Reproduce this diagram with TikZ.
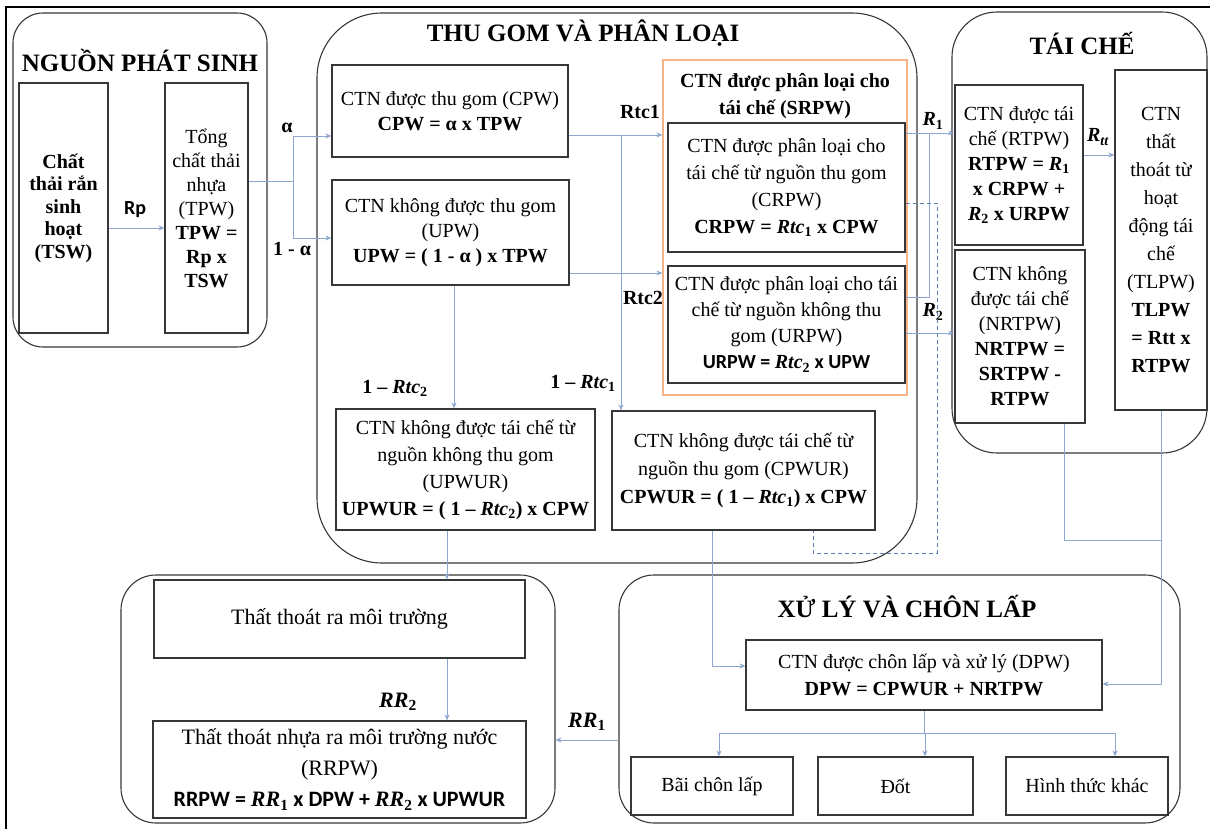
\documentclass[tikz,border=0pt]{standalone}
\usepackage{fontspec}
\setmainfont{Liberation Serif}
\newfontfamily\calfont{Carlito}
\usetikzlibrary{arrows.meta}
\usetikzlibrary{positioning}

\definecolor{flowblue}{RGB}{140,166,206}
\definecolor{dashblue}{RGB}{95,125,185}
\definecolor{boxgray}{RGB}{55,55,55}
\definecolor{sortorange}{RGB}{244,180,135}

\newcommand{\mv}[2]{\textit{#1}\textsubscript{#2}}

\begin{document}
\begin{tikzpicture}[x=1pt, y=-1pt,
    stage/.style={draw=boxgray, line width=1.1pt, rounded corners=#1},
    stage/.default=35pt,
    box/.style={draw=boxgray, line width=1.2pt, align=center, inner sep=2pt,
        font=\fontsize{20}{25}\selectfont},
    sortbox/.style={draw=sortorange, line width=1.2pt},
    stagetitle/.style={font=\fontsize{25}{30}\selectfont\bfseries},
    lbl/.style={font=\fontsize{20}{24}\selectfont\bfseries, inner sep=1pt},
    flow/.style={draw=flowblue, line width=0.8pt, -{Stealth[length=6pt, width=5pt]}},
    link/.style={draw=flowblue, line width=0.8pt},
    dashlink/.style={draw=dashblue, line width=0.8pt, dash pattern=on 4pt off 3pt}
]
\useasboundingbox (0,0) rectangle (1210,829);

% --- frame ---
\draw[line width=2pt] (6,829) -- (6,7) -- (1210,7);

% --- stages ---
\node[stage=30pt, minimum width=254pt, minimum height=334pt] (gen) at (140,180) {};
\node[stage=65pt, minimum width=600pt, minimum height=550pt] (collect) at (617,288) {};
\node[stage=45pt, minimum width=255pt, minimum height=441pt] (recycle) at (1079.5,232.5) {};
\node[stage=35pt, minimum width=434pt, minimum height=248pt] (loss) at (338,699) {};
\node[stage=35pt, minimum width=561pt, minimum height=248pt] (treat) at (899.5,699) {};

\node[stagetitle] (gentitle) at (140,60) {NGUỒN PHÁT SINH};
\node[stagetitle] (collecttitle) at (583,33) {THU GOM VÀ PHÂN LOẠI};
\node[stagetitle] (recycletitle) at (1082,43) {TÁI CHẾ};
\node[stagetitle] (treattitle) at (907,607) {XỬ LÝ VÀ CHÔN LẤP};

% --- source ---
\node[box, font=\fontsize{20}{22.5}\selectfont\bfseries, minimum width=89pt, minimum height=250pt] (tsw) at (63.5,208)
    {Chất\\thải rắn\\sinh\\hoạt\\(TSW)};
\node[box, font=\fontsize{20}{24}\selectfont, minimum width=83pt, minimum height=250pt] (tpw) at (206.5,208)
    {Tổng\\chất thải\\nhựa\\(TPW)\\\textbf{TPW =}\\\textbf{Rp x}\\\textbf{TSW}};

% --- collection and sorting ---
\node[box, minimum width=236pt, minimum height=92pt] (cpw) at (450,111)
    {CTN được thu gom (CPW)\\\textbf{CPW = α x TPW}};
\node[box, minimum width=237pt, minimum height=105pt] (upw) at (450.5,232.5)
    {CTN không được thu gom\\(UPW)\\\textbf{UPW = ( 1 - α ) x TPW}};
\node[sortbox, minimum width=244pt, minimum height=335pt] (srpw) at (785,227.5) {};
\node[font=\fontsize{20}{27}\selectfont\bfseries, align=center] (srpwtitle) at (785,96)
    {CTN được phân loại cho\\tái chế (SRPW)};
\node[box, font=\fontsize{20}{27}\selectfont, minimum width=237pt, minimum height=129pt] (crpw) at (786.5,187.5)
    {CTN được phân loại cho\\tái chế từ nguồn thu gom\\(CRPW)\\\textbf{CRPW = \mv{Rtc}{1} x CPW}};
\node[box, font=\fontsize{20}{26}\selectfont, minimum width=237pt, minimum height=117pt] (urpw) at (786.5,324.5)
    {CTN được phân loại cho tái\\chế từ nguồn không thu\\gom (URPW)\\{\calfont\bfseries URPW = }\textbf{\mv{Rtc}{2}}{\calfont\bfseries{} x UPW}};
\node[box, font=\fontsize{20}{27}\selectfont, minimum width=259pt, minimum height=121pt] (upwur) at (465.5,469.5)
    {CTN không được tái chế từ\\nguồn không thu gom\\(UPWUR)\\\textbf{UPWUR = ( 1 – \mv{Rtc}{2}) x CPW}};
\node[box, font=\fontsize{20}{28}\selectfont, minimum width=263pt, minimum height=119pt] (cpwur) at (743.5,470.5)
    {CTN không được tái chế từ\\nguồn thu gom (CPWUR)\\\textbf{CPWUR = ( 1 – \mv{Rtc}{1}) x CPW}};

% --- recycling ---
\node[box, minimum width=128pt, minimum height=160pt] (rtpw) at (1019,165)
    {CTN được tái\\chế (RTPW)\\\textbf{RTPW = \mv{R}{1}}\\\textbf{x CRPW +}\\\textbf{\mv{R}{2} x URPW}};
\node[box, minimum width=130pt, minimum height=173pt] (nrtpw) at (1020,336.5)
    {CTN không\\được tái chế\\(NRTPW)\\\textbf{NRTPW =}\\\textbf{SRTPW -}\\\textbf{RTPW}};
\node[box, font=\fontsize{20}{28}\selectfont, minimum width=92pt, minimum height=340pt] (tlpw) at (1161,240)
    {CTN\\thất\\thoát từ\\hoạt\\động tái\\chế\\(TLPW)\\\textbf{TLPW}\\\textbf{= Rtt x}\\\textbf{RTPW}};

% --- leakage ---
\node[box, font=\fontsize{22}{30}\selectfont, minimum width=371pt, minimum height=78pt] (env) at (339.5,619)
    {Thất thoát ra môi trường};
\node[box, font=\fontsize{22}{31}\selectfont, minimum width=373pt, minimum height=97pt] (rrpw) at (339.5,769.5)
    {Thất thoát nhựa ra môi trường nước\\(RRPW)\\{\calfont\bfseries RRPW = }\textbf{\mv{RR}{1}}{\calfont\bfseries{} x DPW + }\textbf{\mv{RR}{2}}{\calfont\bfseries{} x UPWUR}};

% --- treatment and landfill ---
\node[box, font=\fontsize{20}{27}\selectfont, minimum width=356pt, minimum height=70pt] (dpw) at (924,675)
    {CTN được chôn lấp và xử lý (DPW)\\\textbf{DPW = CPWUR + NRTPW}};
\node[box, minimum width=162pt, minimum height=58pt] (landfill) at (712,786) {Bãi chôn lấp};
\node[box, minimum width=155pt, minimum height=58pt] (burn) at (895.5,786) {Đốt};
\node[box, minimum width=162pt, minimum height=58pt] (other) at (1087,786) {Hình thức khác};

% --- labels ---
\node[font=\fontsize{20}{24}\selectfont\calfont\bfseries] (rp) at (135,210) {Rp};
\node[lbl] (alpha) at (287,128) {α};
\node[lbl] (alphaneg) at (292,249) {1 - α};
\node[lbl] (rtcone) at (640,112) {Rtc1};
\node[lbl] (rtctwo) at (643,298) {Rtc2};
\node[lbl] (negtwo) at (395,388) {1 – \mv{Rtc}{2}};
\node[lbl] (negone) at (583,383) {1 – \mv{Rtc}{1}};
\node[lbl] (rone) at (933,121) {\mv{R}{1}};
\node[lbl] (rtwo) at (933,312) {\mv{R}{2}};
\node[lbl] (rtt) at (1098,137) {\mv{R}{\textit{tt}}};
\node[lbl, font=\fontsize{22}{26}\selectfont\bfseries] (rrtwo) at (398,702) {\mv{RR}{2}};
\node[lbl, font=\fontsize{22}{26}\selectfont\bfseries] (rrone) at (587,722) {\mv{RR}{1}};

% --- source to collection ---
\draw[flow] ([yshift=-20pt]tsw.east) -- ([yshift=-20pt]tpw.west);
\coordinate (split) at (293,181);
\coordinate (splitup) at (293,136);
\coordinate (splitdown) at (293,238);
\draw[link] (tpw.east |- split) -- (split);
\draw[link] (splitup) -- (splitdown);
\draw[flow] (splitup) -- (splitup -| cpw.west);
\draw[flow] (splitdown) -- (splitdown -| upw.west);

% --- sorting ---
\coordinate (tapone) at (621,135);
\draw[flow] (tapone -| cpw.east) -- (tapone -| srpw.west);
\draw[flow] (tapone) -- (tapone |- cpwur.north);
\coordinate (taptwo) at (0,273);
\draw[flow] (taptwo -| upw.east) -- (taptwo -| srpw.west);
\coordinate (dropup) at (454,0);
\draw[flow] (dropup |- upw.south) -- (dropup |- upwur.north);

% --- to recycling ---
\coordinate (joinup) at (929,133);
\coordinate (joindown) at (929,297);
\draw[flow] (joinup -| crpw.east) -- (joinup -| rtpw.west);
\draw[link] (joinup) -- (joindown) -- (joindown -| urpw.east);
\coordinate (tapthree) at (0,333);
\draw[flow] (tapthree -| urpw.east) -- (tapthree -| nrtpw.west);
\coordinate (tapfour) at (0,155);
\draw[flow] (tapfour -| rtpw.east) -- (tapfour -| tlpw.west);

% --- dashed return ---
\coordinate (backup) at (937,203);
\coordinate (backdown) at (813,553);
\draw[dashlink] (backup -| crpw.east) -- (backup) |- (backdown) -- (backdown |- cpwur.south);

% --- to treatment ---
\coordinate (merge) at (1064,540);
\draw[link] (merge |- nrtpw.south) -- (merge) -- (merge -| tlpw.south);
\coordinate (dpwright) at (0,684);
\draw[flow] (tlpw.south) -- (tlpw.south |- dpwright) -- (dpwright -| dpw.east);
\coordinate (dpwleft) at (712,666);
\draw[flow] (dpwleft |- cpwur.south) -- (dpwleft) -- (dpwleft -| dpw.west);

\coordinate (fan) at (0,733);
\draw[link] (dpw.south) -- (dpw.south |- fan);
\draw[link] (719,733) -- (1115,733);
\foreach \b/\x in {landfill/719, burn/925, other/1115}
{
    \coordinate (fan\b) at (\x,733);
    \draw[flow] (fan\b) -- (fan\b |- \b.north);
}

% --- leakage ---
\coordinate (drop) at (447,0);
\draw[flow] (drop |- upwur.south) -- (drop |- env.north);
\draw[flow] (drop |- env.south) -- (drop |- rrpw.north);
\coordinate (tapfive) at (0,740);
\draw[flow] (tapfive -| treat.west) -- (tapfive -| loss.east);

\end{tikzpicture}
\end{document}
